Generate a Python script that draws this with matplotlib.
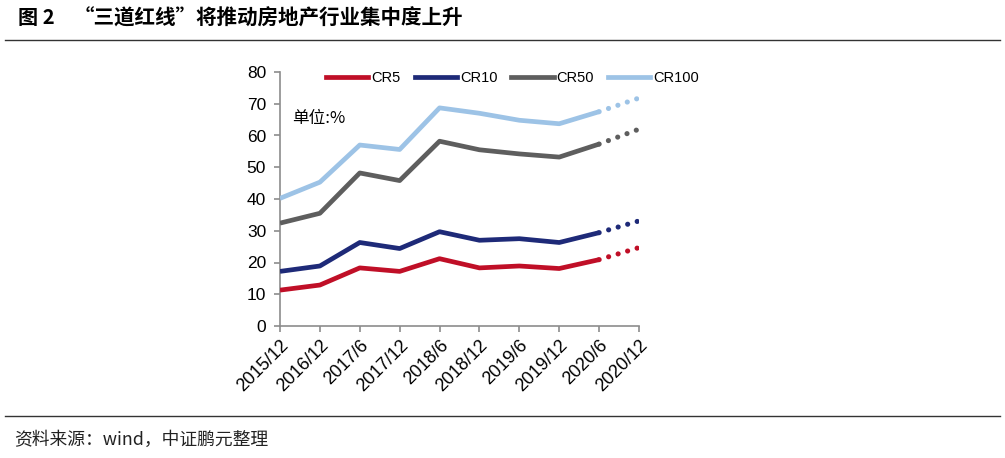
import matplotlib
matplotlib.use("Agg")
import matplotlib.pyplot as plt
from matplotlib.lines import Line2D

categories = ["2015/12", "2016/12", "2017/6", "2017/12", "2018/6", "2018/12",
              "2019/6", "2019/12", "2020/6", "2020/12"]
cr5 = [11.3, 12.9, 18.3, 17.2, 21.2, 18.3, 18.9, 18.1, 20.9, 24.7]
cr10 = [17.2, 18.9, 26.3, 24.4, 29.7, 27.0, 27.5, 26.3, 29.4, 33.1]
cr50 = [32.4, 35.5, 48.2, 45.8, 58.2, 55.5, 54.2, 53.2, 57.3, 62.0]
cr100 = [40.2, 45.3, 57.0, 55.6, 68.7, 67.0, 64.8, 63.7, 67.5, 71.8]
series_names = ["CR5", "CR10", "CR50", "CR100"]
colors = ["#C00F27", "#1E2A78", "#5E5E5E", "#9DC3E6"]
yticks = [0, 10, 20, 30, 40, 50, 60, 70, 80]

W, H = 1005, 458
fig = plt.figure(figsize=(W / 100, H / 100), dpi=100)
cjk = ["Noto Sans CJK SC", "DejaVu Sans"]
latin = ["Liberation Sans", "DejaVu Sans"]

ax = fig.add_axes([280 / W, 1 - 326 / H, (639 - 280) / W, (326 - 72) / H])
x = list(range(len(categories)))
for vals, c in zip([cr5, cr10, cr50, cr100], colors):
    ax.plot(x[:-1], vals[:-1], color=c, lw=3.4, solid_joinstyle="round",
            solid_capstyle="butt", zorder=3)
    ax.plot(x[-2:], vals[-2:], color=c, lw=3.7, linestyle=(0, (0.01, 1.92)),
            dash_capstyle="round", zorder=3)

ax.set_xlim(0, len(categories) - 1)
ax.set_ylim(0, 80)
ax.set_yticks(yticks)
ax.set_xticks(x)
ax.set_xticklabels(categories, rotation=45, ha="right", rotation_mode="anchor",
                   fontsize=13, family=latin, color="#000000")
ax.set_yticklabels([str(v) for v in yticks], fontsize=12.5, family=latin)
for s in ["top", "right"]:
    ax.spines[s].set_visible(False)
for s in ["left", "bottom"]:
    ax.spines[s].set_color("#8C8C8C")
    ax.spines[s].set_linewidth(1.2)
ax.tick_params(axis="both", colors="#8C8C8C", length=4, width=1.2, labelcolor="#000000")
ax.tick_params(axis="y", pad=6)
ax.tick_params(axis="x", pad=4)

handles = [Line2D([0], [0], color=c, lw=3.4) for c in colors]
leg = fig.legend(handles, series_names, loc="center left",
                 bbox_to_anchor=(313 / W, 1 - 78 / H), ncol=4, frameon=False,
                 handlelength=2.9, handletextpad=0.2, columnspacing=0.96,
                 prop={"family": latin, "size": 10.5})

fig.text(292 / W, 1 - 119 / H, "单位:%", fontsize=12, family=cjk,
         va="center", ha="left")

fig.text(18 / W, 1 - 18 / H, "图 2", fontsize=14.5, family=cjk,
         weight="bold", va="center", ha="left")
fig.text(74 / W, 1 - 18 / H, "“三道红线”将推动房地产行业集中度上升", fontsize=14.8,
         family=cjk, weight="bold", va="center", ha="left")
fig.add_artist(Line2D([5 / W, 1000 / W], [1 - 40 / H, 1 - 40 / H],
                      color="#333333", lw=1.0))
fig.add_artist(Line2D([5 / W, 1000 / W], [1 - 416 / H, 1 - 416 / H],
                      color="#333333", lw=1.0))
fig.text(14 / W, 1 - 440 / H, "资料来源：wind，中证鹏元整理", fontsize=12.8,
         family=cjk, va="center", ha="left", color="#222222")

fig.savefig("out.png", dpi=100)
